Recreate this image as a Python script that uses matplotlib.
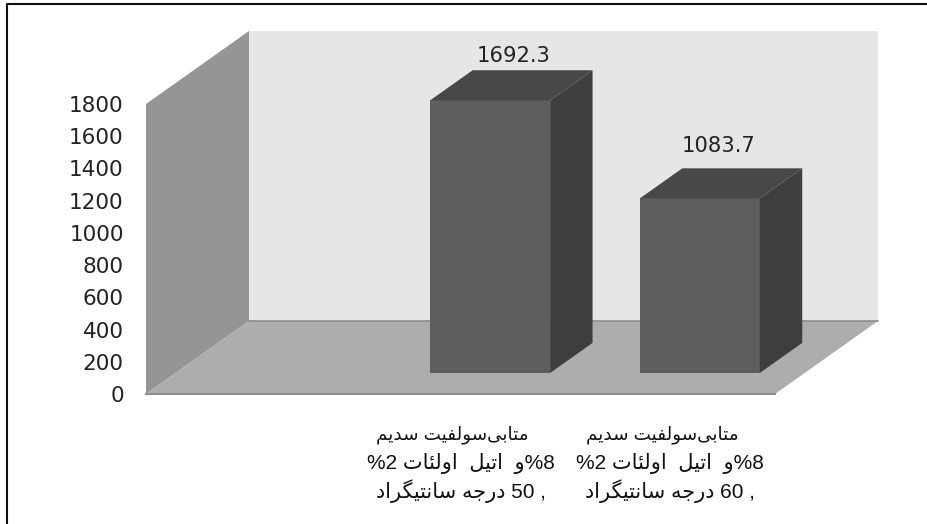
#!/usr/bin/env python3
# -*- coding: utf-8 -*-

import matplotlib
matplotlib.use('Agg')
import matplotlib.pyplot as plt
from matplotlib.lines import Line2D

W, H = 928, 524

def rev(s):
	# matplotlib does no bidi: glyphs go left to right in string order
	return s[::-1]

line_top = rev('ﻣﺘﺎﺑﯽﺳﻮﻟﻔﯿﺖ ﺳﺪﯾﻢ')
line_mid = '%2 ' + rev('ﻭ  ﺍﺗﯿﻞ  ﺍﻭﻟﺌﺎﺕ') + '%8'
line_deg = rev('ﺩﺭﺟﻪ ﺳﺎﻧﺘﯿﮕﺮﺍﺩ')

# first category of the chart is empty
categories = [
	None,
	[line_top, line_mid, line_deg + ' 50 ,'],
	[line_top, line_mid, line_deg + ' 60 ,'],
]
values = [None, 1692.3, 1083.7]
yticks = [0, 200, 400, 600, 800, 1000, 1200, 1400, 1600, 1800]

WALL_DX = 103 / 629 * 3
WALL_DY = 73 / 290 * 1800
BAR_WIDTH = 0.572
BAR_D0 = 0.288
BAR_D1 = 0.70

# value label offsets from the bar centre, pixels
LABEL_OFF = [None, (23, 44), (19, 52)]
# category label lines: offset below the front edge, x shift, size
LINE_Y = [41, 69, 97]
LINE_X = [-8, 0, 0]
LINE_SIZE = [13.2, 15, 15]

def pt(x, y, d):
	return (x + d * WALL_DX, y + d * WALL_DY)

def poly(ax, pts, color, z):
	xs = [p[0] for p in pts]
	ys = [p[1] for p in pts]
	ax.fill(xs, ys, facecolor=color, edgecolor='none', zorder=z, clip_on=False)

def bar3d(ax, x, v, z):
	x0 = x - BAR_WIDTH / 2
	x1 = x + BAR_WIDTH / 2
	poly(ax, [pt(x0, 0, BAR_D0), pt(x1, 0, BAR_D0), pt(x1, v, BAR_D0), pt(x0, v, BAR_D0)], '#5e5e5e', z)
	poly(ax, [pt(x1, 0, BAR_D0), pt(x1, 0, BAR_D1), pt(x1, v, BAR_D1), pt(x1, v, BAR_D0)], '#3e3e3e', z)
	poly(ax, [pt(x0, v, BAR_D0), pt(x1, v, BAR_D0), pt(x1, v, BAR_D1), pt(x0, v, BAR_D1)], '#484848', z)

fig = plt.figure(figsize=(W / 100, H / 100), dpi=100)
fig.patch.set_facecolor('white')
# only the top and left edges of the frame are in the picture
fig.add_artist(Line2D([7 / W, 7 / W, 1], [0, 1 - 4 / H, 1 - 4 / H], color='#111111', lw=1.5,
	transform=fig.transFigure, zorder=-1))

ax = fig.add_axes([146 / W, 1 - 394 / H, 629 / W, 290 / H])
ax.set_xlim(0, len(categories))
ax.set_ylim(0, 1800)
ax.patch.set_visible(False)
for s in ax.spines.values():
	s.set_visible(False)

top = yticks[-1]
n = len(categories)
# back wall, side wall, floor
poly(ax, [pt(0, 0, 1), pt(n, 0, 1), pt(n, top, 1), pt(0, top, 1)], '#e6e6e6', 1)
poly(ax, [pt(0, 0, 0), pt(0, 0, 1), pt(0, top, 1), pt(0, top, 0)], '#959595', 1)
poly(ax, [pt(0, 0, 0), pt(n, 0, 0), pt(n, 0, 1), pt(0, 0, 1)], '#adadad', 2)
ax.plot(*zip(pt(0, 0, 1), pt(n, 0, 1)), color='#8c8c8c', lw=1.2, zorder=2, clip_on=False)
ax.plot(*zip(pt(0, 0, 0), pt(n, 0, 0)), color='#8c8c8c', lw=1.5, zorder=2, clip_on=False)

for i, v in enumerate(values):
	if v is None:
		continue
	x = i + 0.5
	bar3d(ax, x, v, 3 + i)
	# bar front centre, then shift in pixels
	ax.annotate(str(v), xy=pt(x, v, BAR_D0), xytext=LABEL_OFF[i], textcoords='offset pixels',
		ha='center', va='center', fontsize=15.2, color='#222222', family='DejaVu Sans',
		zorder=9, annotation_clip=False)
	for j, line in enumerate(categories[i]):
		ax.annotate(line, xy=(x, 0), xycoords=('data', 'axes fraction'),
			xytext=(LINE_X[j], -LINE_Y[j]), textcoords='offset pixels', ha='center', va='center',
			fontsize=LINE_SIZE[j], family=['Liberation Sans', 'DejaVu Sans'], color='#111111',
			annotation_clip=False)

ax.set_xticks([])
ax.set_yticks(yticks)
ax.tick_params(axis='y', length=0, pad=16, labelsize=15.5, labelcolor='#222222')

fig.savefig('out.png', dpi=100)
